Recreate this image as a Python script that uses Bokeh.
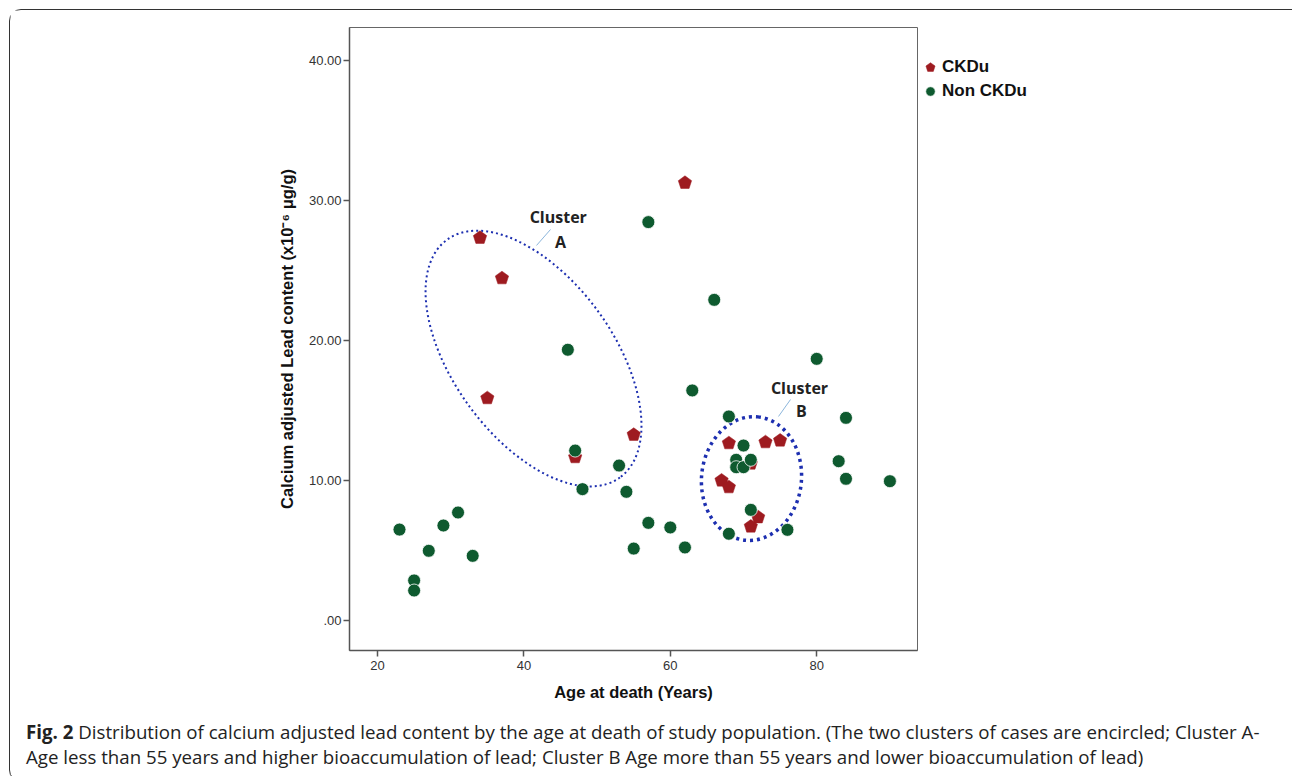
from bokeh.plotting import figure
from bokeh.layouts import column
from bokeh.models import Range1d, FixedTicker, Legend, LegendItem, ColumnDataSource, Div
from bokeh.core.properties import value
from bokeh.embed import file_html
from bokeh.resources import INLINE

# ---- data ----
ckdu_age = [34, 37, 35, 47, 55, 62, 68, 73, 75, 67, 68, 72, 71, 71]
ckdu_lead = [27.34, 24.45, 15.87, 11.65, 13.25, 31.27, 12.65, 12.72, 12.84, 9.98, 9.50, 7.35, 6.69, 11.19]

non_age = [23, 25, 25, 27, 29, 31, 33, 46, 47, 48, 53, 54, 55, 57, 57, 60, 62, 63, 66,
           68, 68, 69, 69, 70, 70, 71, 71, 76, 80, 83, 84, 84, 90]
non_lead = [6.47, 2.83, 2.11, 4.95, 6.76, 7.69, 4.59, 19.33, 12.12, 9.36, 11.05, 9.17, 5.11, 6.95, 28.46,
            6.62, 5.19, 16.42, 22.90, 14.56, 6.17, 11.46, 10.93, 12.48, 10.93, 11.46, 7.88, 6.45, 18.68,
            11.36, 14.46, 10.10, 9.93]

x_ticks = [20, 40, 60, 80]
y_ticks = [0, 10, 20, 30, 40]
y_tick_labels = [".00", "10.00", "20.00", "30.00", "40.00"]

series_names = ["CKDu", "Non CKDu"]

# cluster annotations (data coordinates of the ellipse centres and label anchors)
cluster_cx = [41.31, 71.09]
cluster_cy = [18.70, 10.12]
cluster_text = ["Cluster", "A", "Cluster", "B"]
cluster_text_x = [44.69, 45.0, 77.65, 77.92]
cluster_text_y = [28.86, 27.07, 16.63, 14.92]
leader_x0 = [41.72, 74.78]
leader_y0 = [26.79, 14.56]
leader_x1 = [43.63, 76.42]
leader_y1 = [27.93, 15.77]

caption_bold = "Fig. 2"
caption_1 = ("Distribution of calcium adjusted lead content by the age at death of study population. "
             "(The two clusters of cases are encircled; Cluster A-")
caption_2 = ("Age less than 55 years and higher bioaccumulation of lead; Cluster B Age more than 55 years "
             "and lower bioaccumulation of lead)")

RED = "#9e1b20"
GREEN = "#0e5a2f"
BLUE = "#1d2fb0"

W = 1279
p = figure(frame_width=568, frame_height=623, output_backend="svg", toolbar_location=None,
           x_range=Range1d(16.17, 93.77), y_range=Range1d(-2.18, 42.38),
           min_border_left=339, min_border_right=0, min_border_top=17, min_border_bottom=55)
p.grid.visible = False
p.outline_line_color = "#666"
p.outline_line_width = 1
p.background_fill_color = "white"
p.border_fill_color = "white"

for ax in (p.xaxis[0], p.yaxis[0]):
    ax.axis_line_color = "#555"
    ax.axis_line_width = 1.5
    ax.major_tick_line_color = "#555"
    ax.major_tick_line_width = 1.5
    ax.major_tick_out = 6
    ax.major_tick_in = 0
    ax.minor_tick_out = 0
    ax.minor_tick_in = 0
    ax.major_label_text_font = "Liberation Sans"
    ax.major_label_text_font_size = "13px"
    ax.major_label_text_color = "#333"
    ax.axis_label_text_font = "Liberation Sans"
    ax.axis_label_text_font_style = "bold"
    ax.axis_label_text_font_size = "16.5px"
    ax.axis_label_text_color = "#111"
    ax.axis_label_standoff = 10

p.xaxis.ticker = FixedTicker(ticks=x_ticks)
p.yaxis.ticker = FixedTicker(ticks=y_ticks)
p.yaxis.major_label_overrides = {t: l for t, l in zip(y_ticks, y_tick_labels)}
p.xaxis.axis_label = "Age at death (Years)"
p.yaxis.axis_label = "Calcium adjusted Lead content (x10\u207b\u2076 \u03bcg/g)"
p.xaxis.major_label_standoff = 4
p.yaxis.major_label_standoff = 2

# cluster ellipses
p.ellipse(x=cluster_cx[:1], y=cluster_cy[:1], width=294, height=160, angle=-54, angle_units="deg",
          width_units="screen", height_units="screen", fill_color=None,
          line_color=BLUE, line_width=2, line_dash="2 3")
p.ellipse(x=cluster_cx[1:], y=cluster_cy[1:], width=124, height=100, angle=84, angle_units="deg",
          width_units="screen", height_units="screen", fill_color=None,
          line_color=BLUE, line_width=3.5, line_dash="3 4")

p.segment(x0=leader_x0, y0=leader_y0, x1=leader_x1, y1=leader_y1, line_color="#8cb6dc", line_width=1)
p.text(x=cluster_text_x, y=cluster_text_y, text=cluster_text, text_font=value("Open Sans"),
       text_font_style="bold", text_font_size="16px", text_align="center", text_baseline="middle",
       text_color="#222")

src_red = ColumnDataSource(dict(x=ckdu_age, y=ckdu_lead))
src_green = ColumnDataSource(dict(x=non_age, y=non_lead))
r_red = p.ngon(x="x", y="y", radius=7, radius_units="screen", n=5, source=src_red,
               fill_color=RED, line_color=RED, line_width=0.5)
r_green = p.scatter(x="x", y="y", size=13, marker="circle", source=src_green,
                    fill_color=GREEN, line_color="white", line_width=0.8)

legend = Legend(items=[LegendItem(label=series_names[0], renderers=[r_red]),
                       LegendItem(label=series_names[1], renderers=[r_green])],
                location=(1, 547), border_line_color=None, background_fill_alpha=0,
                padding=0, margin=0, glyph_width=24, glyph_height=24, label_height=19,
                spacing=0, label_standoff=0, label_text_font="Liberation Sans",
                label_text_font_style="bold", label_text_font_size="17px", label_text_color="#111")
p.add_layout(legend, "right")

cap_html = ('<div style="font-family:\'Open Sans\';font-size:18.7px;line-height:25px;color:#222;'
            'white-space:nowrap;padding:9px 0 0 11px;">'
            '<b>' + caption_bold + '</b> ' + caption_1 + '<br>' + caption_2 + '</div>')
cap = Div(text=cap_html, width=W, height=66)

layout = column(p, cap, spacing=0)
layout.styles = {"border": "1.5px solid #333", "border-radius": "12px", "margin": "9px 0 0 9px",
                 "background": "white"}

open("out.html", "w").write(file_html(layout, INLINE))
